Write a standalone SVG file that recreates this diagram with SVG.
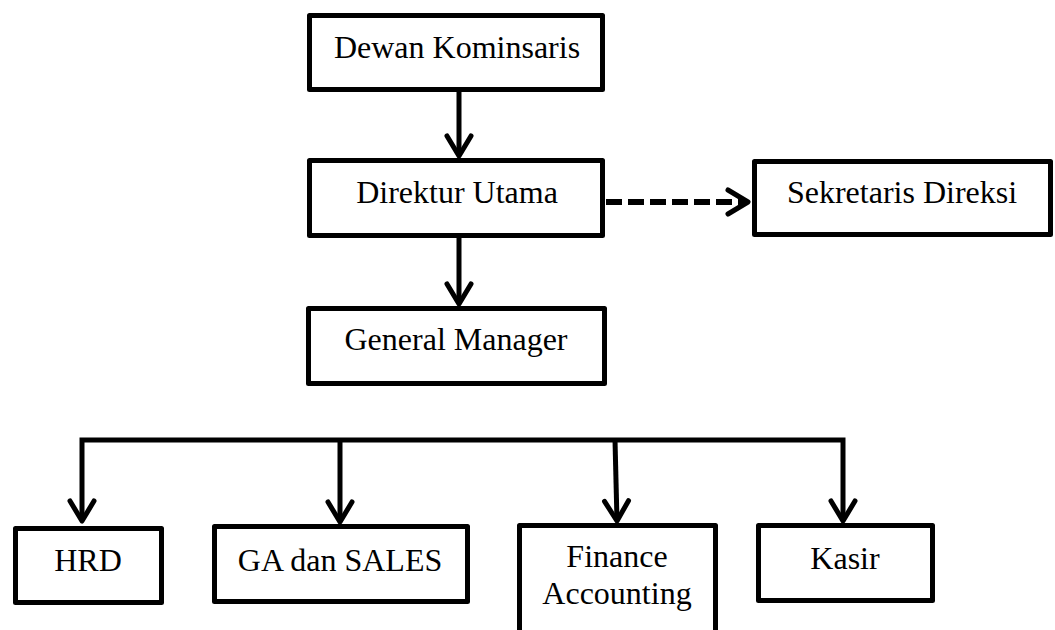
<svg xmlns="http://www.w3.org/2000/svg" width="1055" height="630" viewBox="0 0 1055 630">
  <style>
    .box { fill: #ffffff; stroke: #000000; stroke-width: 5; stroke-linejoin: round; }
    .lbl { font-family: "Liberation Serif", "Times New Roman", serif; font-size: 32px; fill: #000000; text-anchor: middle; }
    .con { fill: none; stroke: #000000; stroke-width: 5; stroke-linejoin: miter; }
    .dash { stroke-dasharray: 16 6; stroke-width: 6; }
  </style>
  <defs>
    <marker id="arrow" markerUnits="userSpaceOnUse" viewBox="-26 -16 30 32" refX="0" refY="0" markerWidth="30" markerHeight="32" orient="auto-start-reverse">
      <path d="M-20,-12 L0,0 L-20,12" fill="none" stroke="#000000" stroke-width="5" stroke-linecap="round" stroke-linejoin="round"/>
    </marker>
  </defs>
  <rect width="1055" height="630" fill="#ffffff"/>

  <g id="connectors">
    <path class="con" d="M459,92 V156" marker-end="url(#arrow)"/>
    <path class="con" d="M459,238 V304" marker-end="url(#arrow)"/>
    <path class="con dash" d="M606,202 H748" marker-end="url(#arrow)"/>
    <path class="con" d="M82,521 V440 H843 V521" marker-start="url(#arrow)" marker-end="url(#arrow)"/>
    <path class="con" d="M340,440 V522" marker-end="url(#arrow)"/>
    <path class="con" d="M615,440 L617,521" marker-end="url(#arrow)"/>
  </g>

  <g id="dewan-kominsaris">
    <rect class="box" x="309.5" y="15.5" width="293" height="74"/>
    <text class="lbl" x="457" y="58">Dewan Kominsaris</text>
  </g>
  <g id="direktur-utama">
    <rect class="box" x="309.5" y="160.5" width="293" height="75"/>
    <text class="lbl" x="457" y="203">Direktur Utama</text>
  </g>
  <g id="sekretaris-direksi">
    <rect class="box" x="754.5" y="161.5" width="296" height="73"/>
    <text class="lbl" x="902" y="203">Sekretaris Direksi</text>
  </g>
  <g id="general-manager">
    <rect class="box" x="308.5" y="308.5" width="296" height="75"/>
    <text class="lbl" x="456" y="350">General Manager</text>
  </g>
  <g id="hrd">
    <rect class="box" x="15.5" y="528.5" width="146" height="74"/>
    <text class="lbl" x="88" y="571">HRD</text>
  </g>
  <g id="ga-dan-sales">
    <rect class="box" x="214.5" y="526.5" width="253" height="75"/>
    <text class="lbl" x="340" y="571">GA dan SALES</text>
  </g>
  <g id="finance-accounting">
    <rect class="box" x="519.5" y="525.5" width="196" height="130"/>
    <text class="lbl" x="617" y="567">Finance</text>
    <text class="lbl" x="617" y="604">Accounting</text>
  </g>
  <g id="kasir">
    <rect class="box" x="758.5" y="525.5" width="174" height="75"/>
    <text class="lbl" x="845" y="569">Kasir</text>
  </g>
</svg>
